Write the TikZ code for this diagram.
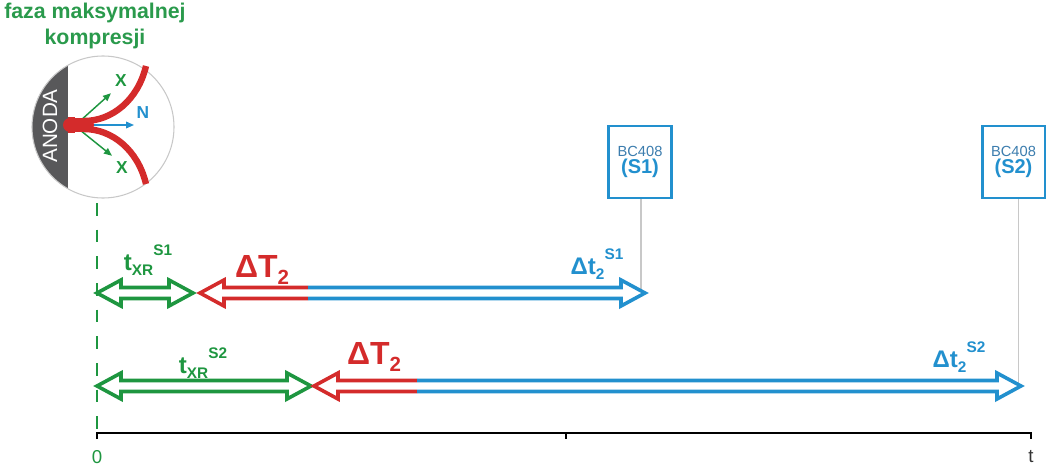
\documentclass[tikz,border=0pt]{standalone}
\usepackage{fontspec}
\setmainfont{Liberation Sans}
\setsansfont{Liberation Sans}
\usetikzlibrary{arrows.meta,calc}
\definecolor{xrgreen}{HTML}{1E9640}
\definecolor{titlegreen}{HTML}{2A9A4C}
\definecolor{plasmared}{HTML}{D42B2B}
\definecolor{tofblue}{HTML}{2290CE}
\definecolor{anodegrey}{HTML}{58585A}
\definecolor{rimgrey}{HTML}{C8C8C8}
\definecolor{boxtext}{HTML}{3C7DAE}
\tikzset{
  barline/.style={line width=2.7pt, line join=miter, miter limit=20, fill=white},
  guide/.style={xrgreen, line width=2.2pt, dash pattern=on 9.5pt off 10.5pt},
  axis/.style={line width=2.2pt, black},
  probe/.style={rimgrey, line width=0.8pt},
  rim/.style={rimgrey, line width=0.8pt},
  plasma/.style={plasmared, line width=4.8pt},
  ray/.style={line width=1.1pt, -{Triangle[length=6pt,width=5pt]}},
  detbox/.style={rectangle, draw=tofblue, line width=2pt, fill=white, align=center,
    minimum width=47pt, minimum height=54pt, inner sep=0pt},
  lbl/.style={font=\bfseries\fontsize{18}{20}\selectfont, inner sep=0pt, anchor=base},
  big/.style={font=\bfseries\fontsize{24}{26}\selectfont, inner sep=0pt, anchor=base},
  tag/.style={font=\bfseries\fontsize{13}{13}\selectfont, inner sep=0pt},
}
% text with a small lowered and a small raised index after it
\newcommand{\idx}[3]{#1\raisebox{-0.22em}{\scalebox{0.64}{#2}}\raisebox{0.6em}{\scalebox{0.64}{#3}}}
% hollow double-line arrows, tips in pixels
\newcommand{\bothways}[3]{%
  \draw[barline, draw=#1] (#2) -- ($(#2)+(24,-13)$) -- ++(0,7.5) -- ($(#3)+(-24,-5.5)$)
    -- ++(0,-7.5) -- (#3) -- ($(#3)+(-24,13)$) -- ++(0,-7.5) -- ($(#2)+(24,5.5)$)
    -- ++(0,7.5) -- cycle;}
\newcommand{\headleft}[3]{%
  \draw[barline, draw=#1] ($(#3)+(0,-5.5)$) -- ($(#2)+(24,-5.5)$) -- ++(0,-7.5) -- (#2)
    -- ($(#2)+(24,13)$) -- ++(0,-7.5) -- ($(#3)+(0,5.5)$);}
\newcommand{\headright}[3]{%
  \draw[barline, draw=#1] ($(#2)+(0,-5.5)$) -- ($(#3)+(-24,-5.5)$) -- ++(0,-7.5) -- (#3)
    -- ($(#3)+(-24,13)$) -- ++(0,-7.5) -- ($(#2)+(0,5.5)$);}

\begin{document}
\begin{tikzpicture}[x=0.75pt, y=-0.75pt]
  \useasboundingbox (0,0) rectangle (1046,471);

  % anode and pinch
  \node[titlegreen, align=center, anchor=north, inner sep=0pt,
    font=\bfseries\fontsize{16}{19.5}\selectfont] (title) at (95,3) {faza maksymalnej\\kompresji};
  \coordinate (c) at (103,127);
  \begin{scope}
    \clip (c) circle[radius=71];
    \fill[anodegrey] (0,0) rectangle (68,250);
  \end{scope}
  \draw[rim] (c) circle[radius=71];
  \node[rotate=90, text=white, inner sep=0pt, font=\fontsize{15.5}{15.5}\selectfont] (anoda) at (50,126) {ANODA};

  \coordinate (xs1) at (80,121);
  \coordinate (xs2) at (80,130);
  \coordinate (ns) at (93,125);
  \node[tag, xrgreen] (x1) at (121,81) {X};
  \node[tag, xrgreen] (x2) at (122,168) {X};
  \node[tag, tofblue] (n) at (143,113) {N};
  \draw[ray, xrgreen] (xs1) -- ($(x1.south west)+(-4,6)$);
  \draw[ray, xrgreen] (xs2) -- ($(x2.north west)+(-4,-6)$);
  \draw[ray, tofblue] (ns) -- (134,125);

  \draw[plasmared, line width=10.5pt, line cap=round] (70,125) -- (87,125);
  \fill[plasmared] (68,117) rectangle (75,133);
  \draw[plasma] (84,121) .. controls (112,121) and (138,100) .. (146,66);
  \draw[plasma] (84,129) .. controls (112,129) and (138,150) .. (146,184);

  % time axis
  \coordinate (g0) at (97,203);
  \coordinate (t0) at (97,433);
  \coordinate (tm) at (566,433);
  \coordinate (tend) at (1031,433);
  \draw[guide] (g0) -- (t0);
  \draw[axis] ($(t0)+(0,6)$) -- (t0) -- (tend) -- ++(0,6);
  \draw[axis] (tm) -- ++(0,6);
  \node[xrgreen, font=\fontsize{14}{14}\selectfont] (zero) at (97,457) {0};
  \node[black!80, font=\fontsize{14}{14}\selectfont] (tlab) at (1031,457) {t};

  % detectors
  \node[detbox] (s1) at (640,162) {{\color{boxtext}\fontsize{11}{12}\selectfont BC408}\\[1pt]
    {\color{tofblue}\bfseries\fontsize{15}{16}\selectfont (S1)}};
  \node[detbox] (s2) at (1013.5,162) {{\color{boxtext}\fontsize{11}{12}\selectfont BC408}\\[1pt]
    {\color{tofblue}\bfseries\fontsize{15}{16}\selectfont (S2)}};

  % first detector
  \coordinate (o1) at (97,293);
  \coordinate (xr1) at (193,293);
  \coordinate (d1) at (200,293);
  \coordinate (j1) at (308,293);
  \coordinate (e1) at (645,293);
  \draw[probe] ([xshift=0.75pt]s1.south) -- ([xshift=0.75pt]s1.south |- e1);
  \bothways{xrgreen}{o1}{xr1}
  \headleft{plasmared}{d1}{j1}
  \headright{tofblue}{j1}{e1}
  \node[lbl, xrgreen] (txr1) at (148,270) {\idx{t}{XR}{S1}};
  \node[big, plasmared] (dT1) at (262,277) {\idx{ΔT}{2}{}};
  \node[lbl, tofblue] (dt1) at (597,274) {\idx{Δt}{2}{S1}};

  % second detector
  \coordinate (o2) at (97,386);
  \coordinate (xr2) at (311,386);
  \coordinate (d2) at (314,386);
  \coordinate (j2) at (417,386);
  \coordinate (e2) at (1021,386);
  \draw[probe] ([xshift=3.5pt]s2.south) -- ([xshift=3.5pt]s2.south |- e2);
  \bothways{xrgreen}{o2}{xr2}
  \headleft{plasmared}{d2}{j2}
  \headright{tofblue}{j2}{e2}
  \node[lbl, xrgreen] (txr2) at (203,373) {\idx{t}{XR}{S2}};
  \node[big, plasmared] (dT2) at (374,364) {\idx{ΔT}{2}{}};
  \node[lbl, tofblue] (dt2) at (959,367) {\idx{Δt}{2}{S2}};
\end{tikzpicture}
\end{document}
